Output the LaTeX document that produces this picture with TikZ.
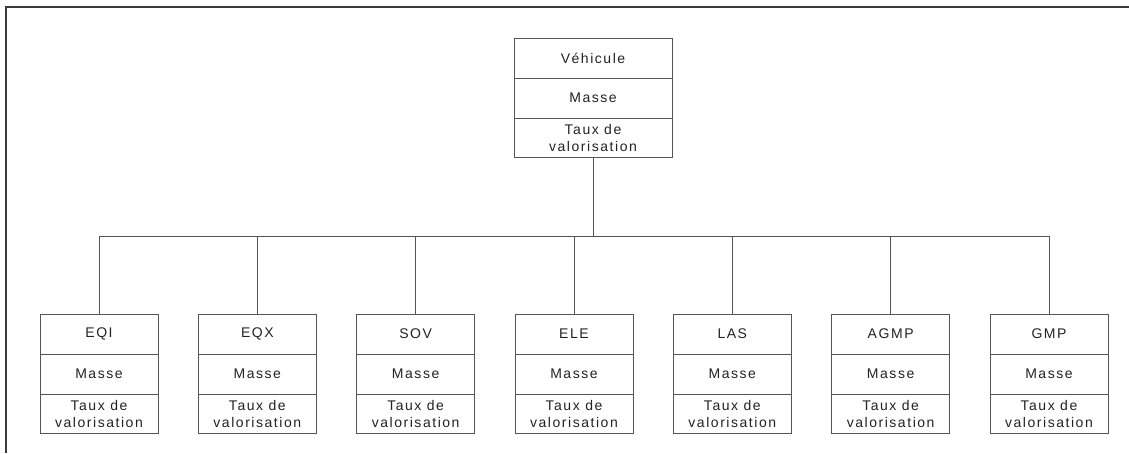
\documentclass[tikz,border=0pt]{standalone}
\usepackage{fontspec}
\usepackage{tikz}
\usetikzlibrary{calc,positioning,shapes.multipart}
\newfontfamily\arial{Liberation Sans}[LetterSpace=11]
\definecolor{cadre}{HTML}{3A3A3A}
\definecolor{trait}{HTML}{555555}
\definecolor{texte}{HTML}{222222}
\newcommand{\cellule}[2][118pt]
	{\parbox[c][39pt][c]{#1}{\centering #2}}
\tikzset{classe/.style={rectangle split, rectangle split parts=3, draw=trait,
	line width=0.9pt, inner sep=0pt, text=texte,
	font=\arial\fontsize{14}{17.5}\selectfont}}

\begin{document}
\begin{tikzpicture}[x=1pt,y=-1pt]
    \useasboundingbox (0,0) rectangle (1129,453);
    % cadre
    \draw[cadre, line width=2pt] (5.5,453) -- (5.5,6.5) -- (1129,6.5);

    \node[classe] (vehicule) at (593,98)
        {\cellule[158pt]{Véhicule}\nodepart{two}\cellule[158pt]{Masse}\nodepart{three}\cellule[158pt]{Taux de\\valorisation}};

    \foreach \nom/\titre [count=\i from 0] in {eqi/EQI,eqx/EQX,sov/SOV,ele/ELE,las/LAS,agmp/AGMP,gmp/GMP}
        \node[classe] (\nom) at (99+158.33*\i,374)
            {\cellule{\titre}\nodepart{two}\cellule{Masse}\nodepart{three}\cellule{Taux de\\valorisation}};

    % liaisons
    \coordinate (bus) at (593,236);
    \draw[trait, line width=0.9pt] (vehicule.south) -- (bus);
    \draw[trait, line width=0.9pt] (eqi.north) -- (eqi.north |- bus) -- (gmp.north |- bus) -- (gmp.north);
    \foreach \nom in {eqx,sov,ele,las,agmp}
        \draw[trait, line width=0.9pt] (\nom.north) -- (\nom.north |- bus);
\end{tikzpicture}
\end{document}
